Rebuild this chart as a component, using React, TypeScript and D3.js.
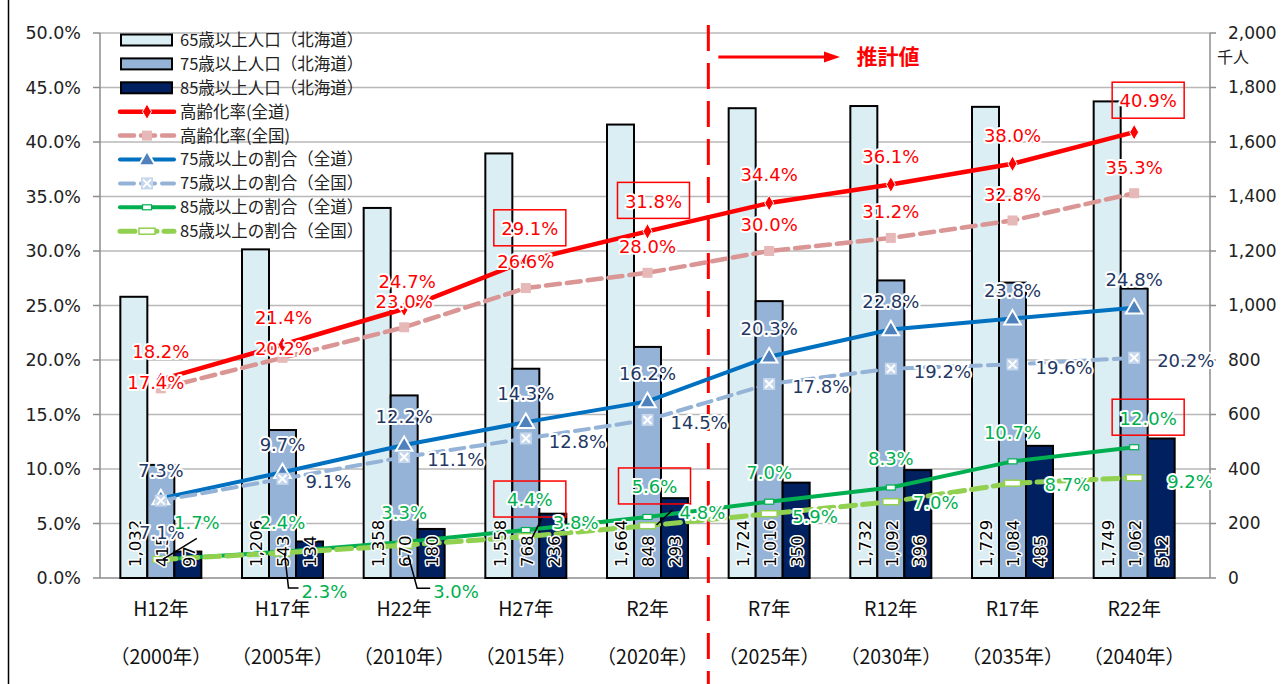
import { useEffect, useRef } from "react";
import * as d3 from "d3";

// categories (x axis)
const categories = ["H12年", "H17年", "H22年", "H27年", "R2年", "R7年", "R12年", "R17年", "R22年"];
const yearLabels = ["（2000年）", "（2005年）", "（2010年）", "（2015年）", "（2020年）", "（2025年）", "（2030年）", "（2035年）", "（2040年）"];

// population of Hokkaido (thousand people)
const pop65 = [1032, 1206, 1358, 1558, 1664, 1724, 1732, 1729, 1749];
const pop75 = [415, 543, 670, 768, 848, 1016, 1092, 1084, 1062];
const pop85 = [97, 134, 180, 236, 293, 350, 396, 485, 512];

// ratios (%)
const agingHokkaido = [18.2, 21.4, 24.7, 29.1, 31.8, 34.4, 36.1, 38.0, 40.9];
const agingJapan = [17.4, 20.2, 23.0, 26.6, 28.0, 30.0, 31.2, 32.8, 35.3];
const over75Hokkaido = [7.3, 9.7, 12.2, 14.3, 16.2, 20.3, 22.8, 23.8, 24.8];
const over75Japan = [7.1, 9.1, 11.1, 12.8, 14.5, 17.8, 19.2, 19.6, 20.2];
const over85Hokkaido = [1.7, 2.4, 3.3, 4.4, 5.6, 7.0, 8.3, 10.7, 12.0];
const over85Japan = [1.7, 2.3, 3.0, 3.8, 4.8, 5.9, 7.0, 8.7, 9.2];

const W = 1282;
const H = 684;
const NUM_FONT = "'DejaVu Sans', Verdana, sans-serif";
const JP_FONT = "'Noto Sans CJK JP', 'Noto Sans', sans-serif";

type Off = [number, number];

const App = () => {
  const svgRef = useRef<SVGSVGElement>(null);

  useEffect(() => {
    if (!svgRef.current) return;
    const svg = d3.select(svgRef.current);
    svg.selectAll("*").remove();

    const left = 100;
    const right = 1210;
    const x = d3.scaleBand<string>().domain(categories).range([left, 1195]);
    const xIn = d3.scaleBand<string>().domain(["65", "75", "85"]).range([-40.5, 40.5]);
    const yL = d3.scaleLinear().domain([0, 50]).range([578, 33]);
    const yR = d3.scaleLinear().domain([0, 2000]).range([578, 33]);
    const cx = (i: number) => (x(categories[i]) ?? 0) + x.bandwidth() / 2;

    svg.append("rect").attr("width", W).attr("height", H).attr("fill", "#fff");
    svg.append("line").attr("x1", 8.5).attr("x2", 8.5).attr("y1", 0).attr("y2", H)
      .attr("stroke", "#000").attr("stroke-width", 1.5);

    // grid
    const ticksL = yL.ticks(10);
    svg.append("g").selectAll("line").data(ticksL).join("line")
      .attr("x1", left).attr("x2", right)
      .attr("y1", (d) => yL(d)).attr("y2", (d) => yL(d))
      .attr("stroke", (d) => (d === 0 ? "#8c8c8c" : "#b8b8b8"))
      .attr("stroke-width", 1.5);

    // left axis
    const gL = svg.append("g");
    gL.append("line").attr("x1", left).attr("x2", left).attr("y1", 33).attr("y2", 578)
      .attr("stroke", "#8c8c8c").attr("stroke-width", 1.5);
    gL.selectAll("line.t").data(ticksL).join("line").attr("class", "t")
      .attr("x1", left - 7).attr("x2", left).attr("y1", (d) => yL(d)).attr("y2", (d) => yL(d))
      .attr("stroke", "#8c8c8c").attr("stroke-width", 1.5);
    gL.selectAll("text").data(ticksL).join("text")
      .attr("x", 81).attr("y", (d) => yL(d)).attr("dy", "0.35em")
      .attr("text-anchor", "end").attr("font-family", NUM_FONT).attr("font-size", 17.5)
      .attr("fill", "#222").text((d) => d3.format(".1f")(d) + "%");

    // right axis
    const ticksR = yR.ticks(10);
    const gR = svg.append("g");
    gR.append("line").attr("x1", right).attr("x2", right).attr("y1", 33).attr("y2", 578)
      .attr("stroke", "#8c8c8c").attr("stroke-width", 1.5);
    gR.selectAll("line.t").data(ticksR).join("line").attr("class", "t")
      .attr("x1", right).attr("x2", right + 6).attr("y1", (d) => yR(d)).attr("y2", (d) => yR(d))
      .attr("stroke", "#8c8c8c").attr("stroke-width", 1.5);
    gR.selectAll("text").data(ticksR).join("text")
      .attr("x", 1228).attr("y", (d) => yR(d)).attr("dy", "0.35em")
      .attr("font-family", NUM_FONT).attr("font-size", 17).attr("fill", "#222")
      .text((d) => d3.format(",")(d));
    gR.append("text").attr("x", 1233).attr("y", 57).attr("dy", "0.35em").attr("text-anchor", "middle")
      .attr("font-family", JP_FONT).attr("font-size", 16).attr("fill", "#222").text("千人");

    // category labels
    const gX = svg.append("g").attr("font-family", JP_FONT).attr("font-size", 19.5)
      .attr("fill", "#111").attr("text-anchor", "middle");
    gX.selectAll("text.c").data(categories).join("text").attr("class", "c")
      .attr("x", (_, i) => cx(i)).attr("y", 609).attr("dy", "0.35em").text((d) => d);
    gX.selectAll("text.yr").data(yearLabels).join("text").attr("class", "yr")
      .attr("x", (_, i) => cx(i)).attr("y", 657).attr("dy", "0.35em").text((d) => d);

    // bars
    const barSeries = [
      { key: "65", values: pop65, fill: "#daeef3" },
      { key: "75", values: pop75, fill: "#95b3d7" },
      { key: "85", values: pop85, fill: "#002060" },
    ];
    const gBars = svg.append("g");
    barSeries.forEach((s) => {
      gBars.append("g").selectAll("rect").data(s.values).join("rect")
        .attr("x", (_, i) => cx(i) + (xIn(s.key) ?? 0))
        .attr("width", xIn.bandwidth())
        .attr("y", (d) => yR(d))
        .attr("height", (d) => yR(0) - yR(d))
        .attr("fill", s.fill).attr("stroke", "#000").attr("stroke-width", 2);
    });

    // estimate divider
    const xDiv = (x("R2年") ?? 0) + x.bandwidth();
    svg.append("line").attr("x1", xDiv).attr("x2", xDiv).attr("y1", 25).attr("y2", H)
      .attr("stroke", "#ff0000").attr("stroke-width", 3).attr("stroke-dasharray", "26,12");
    svg.append("line").attr("x1", xDiv + 10).attr("x2", 826).attr("y1", 57).attr("y2", 57)
      .attr("stroke", "#ff0000").attr("stroke-width", 3);
    svg.append("path").attr("d", "M824,51.5L840,57L824,62.5Z").attr("fill", "#ff0000");
    svg.append("text").attr("x", 888).attr("y", 57).attr("dy", "0.35em").attr("text-anchor", "middle")
      .attr("font-family", JP_FONT).attr("font-weight", "bold").attr("font-size", 21)
      .attr("fill", "#ff0000").text("推計値");

    // line series
    type Marker = "diamond" | "square" | "triangle" | "xsquare" | "dashS" | "dashL";
    const lineSeries: {
      name: string; values: number[]; color: string; width: number; dash: string | null;
      marker: Marker; labelColor: string; anchor: "middle" | "start"; off: Off; custom?: Record<number, Off | null>;
      boxed?: number[];
    }[] = [
      { name: "高齢化率(全道)", values: agingHokkaido, color: "#ff0000", width: 4.5, dash: null, marker: "diamond",
        labelColor: "#ff0000", anchor: "middle", off: [0, -28], custom: { 1: [1, -27], 2: [3, -27], 3: [4, -32], 4: [6, -30], 8: [14, -31] }, boxed: [3, 4, 8] },
      { name: "高齢化率(全国)", values: agingJapan, color: "#da9694", width: 4.5, dash: "14,7", marker: "square",
        labelColor: "#ff0000", anchor: "middle", off: [0, -26], custom: { 0: [-5, -6], 1: [1, -9] } },
      { name: "75歳以上の割合（全道）", values: over75Hokkaido, color: "#0070c0", width: 4, dash: null, marker: "triangle",
        labelColor: "#1f3864", anchor: "middle", off: [0, -28] },
      { name: "75歳以上の割合（全国）", values: over75Japan, color: "#95b3d7", width: 4, dash: "14,7", marker: "xsquare",
        labelColor: "#1f3864", anchor: "start", off: [23, 3], custom: { 0: [-21, 32] } },
      { name: "85歳以上の割合（全道）", values: over85Hokkaido, color: "#00b050", width: 4, dash: null, marker: "dashS",
        labelColor: "#00b050", anchor: "middle", off: [0, -29], custom: { 0: [36, -37], 3: [4, -30], 4: [7, -30], 8: [14, -29] }, boxed: [3, 4, 8] },
      { name: "85歳以上の割合（全国）", values: over85Japan, color: "#92d050", width: 5, dash: "15,7", marker: "dashL",
        labelColor: "#00b050", anchor: "start", off: [26, 2],
        custom: { 0: null, 1: [19, 39], 2: [29, 46], 3: [27, -14], 4: [32, -13], 5: [23, 3], 6: [22, 1], 7: [32, 2], 8: [33, 4] } },
    ];

    const drawMarker = (g: d3.Selection<SVGGElement, unknown, null, undefined>, m: Marker, px: number, py: number) => {
      if (m === "diamond") {
        g.append("path").attr("d", d3.symbol(d3.symbolDiamond, 70)()).attr("transform", `translate(${px},${py})`)
          .attr("fill", "#ff0000").attr("stroke", "#fff").attr("stroke-width", 1);
      } else if (m === "square") {
        g.append("rect").attr("x", px - 5).attr("y", py - 5).attr("width", 10).attr("height", 10).attr("fill", "#e6b9b8");
      } else if (m === "triangle") {
        g.append("path").attr("d", d3.symbol(d3.symbolTriangle, 120)()).attr("transform", `translate(${px},${py + 1})`)
          .attr("fill", "#4f81bd").attr("stroke", "#fff").attr("stroke-width", 2);
      } else if (m === "xsquare") {
        g.append("rect").attr("x", px - 6).attr("y", py - 6).attr("width", 12).attr("height", 12).attr("fill", "#c6d6ec");
        g.append("path").attr("d", `M${px - 4},${py - 4}L${px + 4},${py + 4}M${px + 4},${py - 4}L${px - 4},${py + 4}`)
          .attr("stroke", "#fff").attr("stroke-width", 2);
      } else if (m === "dashS") {
        g.append("rect").attr("x", px - 4.5).attr("y", py - 2.5).attr("width", 9).attr("height", 5)
          .attr("fill", "#fff").attr("stroke", "#00b050").attr("stroke-width", 1.2);
      } else {
        g.append("rect").attr("x", px - 8).attr("y", py - 3).attr("width", 16).attr("height", 6)
          .attr("fill", "#fff").attr("stroke", "#92d050").attr("stroke-width", 1.5);
      }
    };

    const gLines = svg.append("g");
    lineSeries.forEach((s) => {
      const line = d3.line<number>().x((_, i) => cx(i)).y((d) => yL(d));
      gLines.append("path").datum(s.values).attr("d", line).attr("fill", "none")
        .attr("stroke", s.color).attr("stroke-width", s.width)
        .attr("stroke-dasharray", s.dash).attr("stroke-linecap", s.dash ? "round" : "butt");
    });
    const gMarks = svg.append("g");
    lineSeries.forEach((s) => {
      s.values.forEach((v, i) => drawMarker(gMarks, s.marker, cx(i), yL(v)));
    });

    // leader lines
    const leaders: { values: number[]; i: number; pts: Off[] }[] = [
      { values: over85Hokkaido, i: 0, pts: [[2, 0], [36, -21]] },
      { values: over85Japan, i: 1, pts: [[2, 0], [6, 35], [16, 35]] },
      { values: over85Japan, i: 2, pts: [[4, 10], [13, 43], [26, 43]] },
      { values: over85Hokkaido, i: 3, pts: [[6, 8], [16, -12]] },
      { values: over85Hokkaido, i: 4, pts: [[9, 8], [25, -7]] },
    ];

    // bar value labels (vertical)
    const gBarLbl = svg.append("g");
    barSeries.forEach((s) => {
      gBarLbl.append("g").selectAll("text").data(s.values).join("text")
        .attr("transform", (_, i) => `translate(${cx(i) + (xIn(s.key) ?? 0) + xIn.bandwidth() / 2 + 1},567) rotate(-90)`)
        .attr("dy", "0.35em").attr("font-family", NUM_FONT).attr("font-size", 16.5).attr("fill", "#000")
        .attr("stroke", "#fff").attr("stroke-width", 3).attr("paint-order", "stroke").attr("stroke-linejoin", "round")
        .text((d) => d3.format(",")(d));
    });

    const gLead = svg.append("g");
    leaders.forEach((l) => {
      const px = cx(l.i);
      const py = yL(l.values[l.i]);
      gLead.append("path").attr("d", d3.line()(l.pts.map(([dx, dy]) => [px + dx, py + dy]) as [number, number][]))
        .attr("fill", "none").attr("stroke", "#000").attr("stroke-width", 1.5);
    });

    // line value labels
    const gLbl = svg.append("g");
    lineSeries.forEach((s) => {
      s.values.forEach((v, i) => {
        const c = s.custom && i in s.custom ? s.custom[i] : s.off;
        if (c === null) return;
        const tx = cx(i) + c[0];
        const ty = yL(v) + c[1];
        const centered = s.anchor === "start" && i === 0 && s.name.startsWith("75");
        gLbl.append("text").attr("x", centered ? cx(i) + 1 : tx).attr("y", ty).attr("dy", "0.35em")
          .attr("text-anchor", centered ? "middle" : s.anchor)
          .attr("font-family", NUM_FONT).attr("font-size", 18).attr("fill", s.labelColor)
          .attr("stroke", "#fff").attr("stroke-width", 4).attr("paint-order", "stroke").attr("stroke-linejoin", "round")
          .text(d3.format(".1f")(v) + "%");
        if (s.boxed && s.boxed.includes(i)) {
          gLbl.append("rect").attr("x", tx - 36).attr("y", ty - 19).attr("width", 72).attr("height", 36)
            .attr("fill", "none").attr("stroke", "#ff0000").attr("stroke-width", 1.5);
        }
      });
    });

    // legend
    const gLeg = svg.append("g").attr("font-family", JP_FONT).attr("font-size", 16.5).attr("fill", "#222");
    const legItems = [
      { name: "65歳以上人口（北海道）", bar: "#daeef3" },
      { name: "75歳以上人口（北海道）", bar: "#95b3d7" },
      { name: "85歳以上人口（北海道）", bar: "#002060" },
      ...lineSeries.map((s) => ({ name: s.name, bar: "", s })),
    ];
    legItems.forEach((it, k) => {
      const ly = 40 + k * 23.9;
      const row = gLeg.append("g");
      if (it.bar) {
        row.append("rect").attr("x", 121).attr("y", ly - 5.5).attr("width", 51).attr("height", 11)
          .attr("fill", it.bar).attr("stroke", "#000").attr("stroke-width", 2);
      } else {
        const s = (it as { s: (typeof lineSeries)[number] }).s;
        row.append("line").attr("x1", 120).attr("x2", 174).attr("y1", ly).attr("y2", ly)
          .attr("stroke", s.color).attr("stroke-width", s.width)
          .attr("stroke-dasharray", s.dash).attr("stroke-linecap", "round");
        drawMarker(row as unknown as d3.Selection<SVGGElement, unknown, null, undefined>, s.marker, 147, ly);
      }
      row.append("text").attr("x", 180).attr("y", ly).attr("dy", "0.36em").text(it.name);
    });
  }, []);

  return (
    <svg ref={svgRef} width={W} height={H}
      style={{ position: "absolute", left: 0, top: 0, display: "block" }} />
  );
};

export default App;
